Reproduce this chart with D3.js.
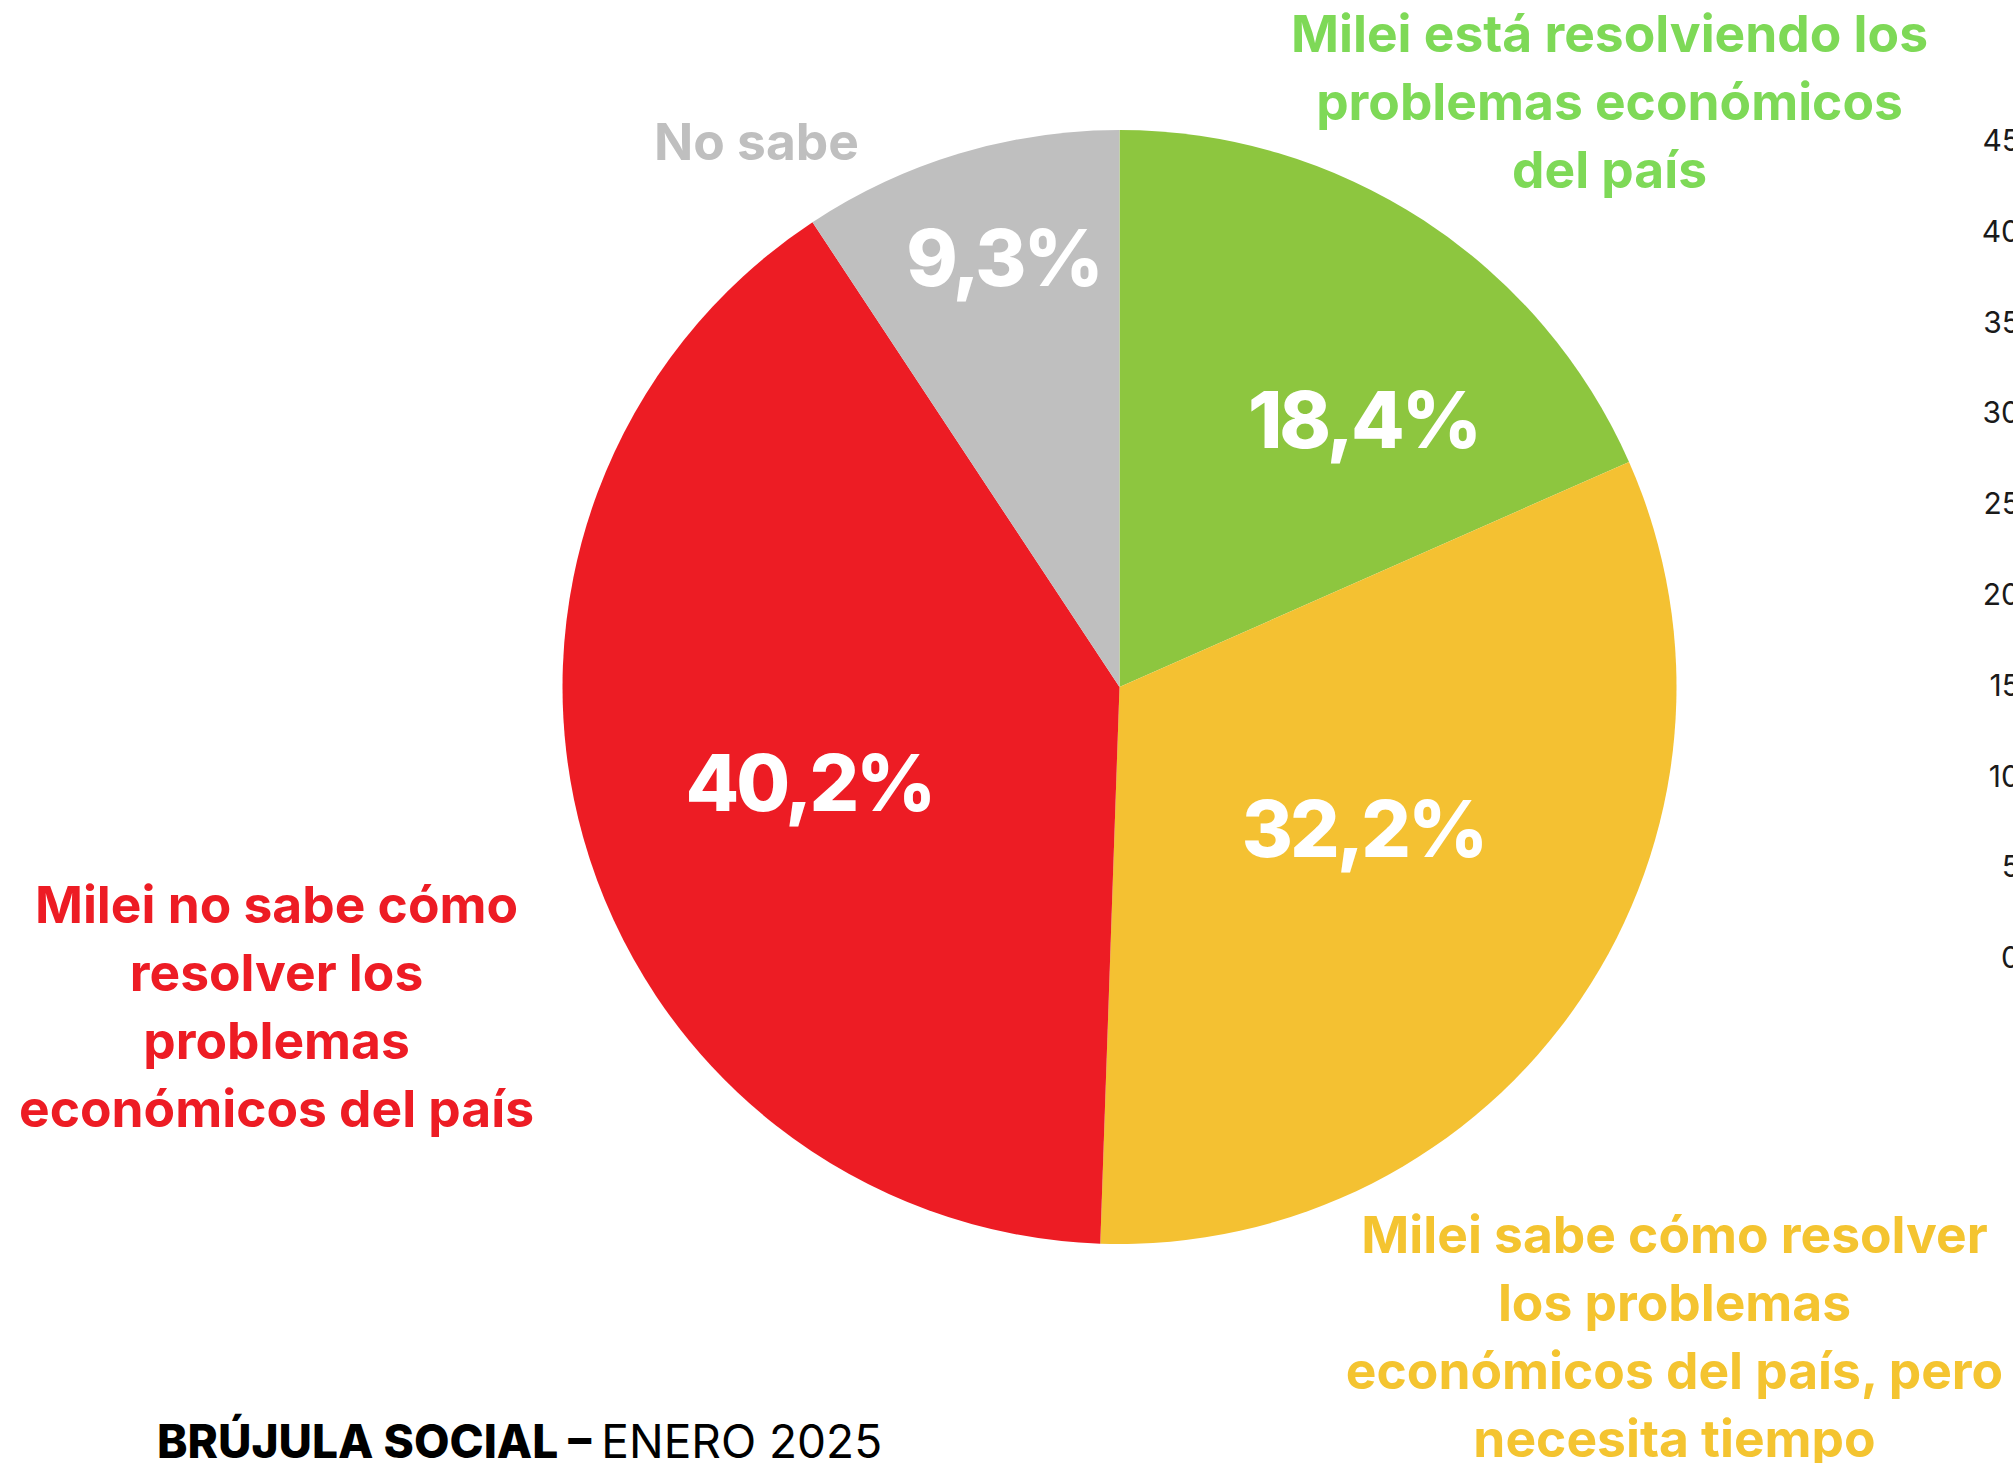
<!DOCTYPE html>
<html>
<head>
<meta charset="utf-8">
<script src="https://cdn.jsdelivr.net/npm/d3@7"></script>
<style>
  html, body { margin:0; padding:0; background:#fff; }
  svg { display:block; }
  text { font-family: Inter, "Noto Sans", sans-serif; }
</style>
</head>
<body>
<div id="canvas"></div>
<script>
// data
var categories = ['Milei está resolviendo los problemas económicos del país',
                  'Milei sabe cómo resolver los problemas económicos del país, pero necesita tiempo',
                  'Milei no sabe cómo resolver los problemas económicos del país',
                  'No sabe'];
var values = [18.4, 32.2, 40.2, 9.3];
var labelLines = [
  ['Milei está resolviendo los', 'problemas económicos', 'del país'],
  ['Milei sabe cómo resolver', 'los problemas', 'económicos del país, pero', 'necesita tiempo'],
  ['Milei no sabe cómo', 'resolver los', 'problemas', 'económicos del país'],
  ['No sabe']
];
var axisTicks = [0, 5, 10, 15, 20, 25, 30, 35, 40, 45];

var sliceColors = ['#8dc63f', '#f4c132', '#ed1c24', '#bfbfbf'];
var textColors  = ['#7ed957', '#f4c430', '#ed1c24', '#bfbfbf'];

var W = 2013, H = 1463;
var cx = 1119.5, cy = 687, r = 557;

// label layout, relative to pie centre
var pctPos = [[244, -267], [244, 142], [-310, 96], [-116, -429]];
var catPos = [[490, -654], [555, 547], [-843, 217], [-363, -546]];
var lineH = 68;

var svg = d3.select('#canvas')
    .append('svg')
    .attr('width', W)
    .attr('height', H);

var fmt = function(v){ return d3.format('.1f')(v).replace('.', ',') + '%'; };

var pie = d3.pie().sort(null).value(function(d){ return d; });
var arc = d3.arc().innerRadius(0).outerRadius(r);

var g = svg.append('g')
    .attr('transform', 'translate(' + cx + ',' + cy + ')');

g.selectAll('path')
    .data(pie(values))
    .enter()
    .append('path')
    .attr('d', arc)
    .style('fill', function(d, i){ return sliceColors[i]; });

// percentages
g.selectAll('text.pct')
    .data(values)
    .enter()
    .append('text')
    .attr('class', 'pct')
    .attr('x', function(d, i){ return pctPos[i][0]; })
    .attr('y', function(d, i){ return pctPos[i][1]; })
    .attr('dy', '0.36em')
    .attr('text-anchor', 'middle')
    .style('font-size', '78px')
    .style('font-weight', 800)
    .style('letter-spacing', '-3px')
    .style('fill', '#fff')
    .text(fmt);

// category labels
var cat = g.selectAll('text.cat')
    .data(labelLines)
    .enter()
    .append('text')
    .attr('class', 'cat')
    .attr('text-anchor', 'middle')
    .style('font-size', '51.5px')
    .style('font-weight', 700)
    .style('fill', function(d, i){ return textColors[i]; });

cat.each(function(lines, i){
    d3.select(this).selectAll('tspan')
        .data(lines)
        .enter()
        .append('tspan')
        .attr('x', catPos[i][0])
        .attr('y', function(l, j){ return catPos[i][1] + j * lineH; })
        .attr('dy', '0.36em')
        .text(function(l){ return l; });
});

// leftover axis at right edge (cut off)
var y = d3.scaleLinear().domain([0, 45]).range([958, 141]);
var axis = svg.append('g')
    .attr('class', 'axis')
    .attr('transform', 'translate(2020,0)')
    .call(d3.axisLeft(y).tickValues(axisTicks).tickSize(0).tickPadding(0));
axis.select('.domain').remove();
axis.selectAll('text')
    .style('font-family', 'Inter, sans-serif')
    .style('font-size', '30px')
    .style('fill', '#1a1a1a');

// footer
var foot = svg.append('text')
    .attr('x', 157)
    .attr('y', 1441)
    .attr('dy', '0.36em')
    .style('font-size', '46px')
    .style('fill', '#000');
foot.append('tspan').style('font-weight', 800).text('BRÚJULA SOCIAL – ');
foot.append('tspan').style('font-weight', 400).text('ENERO 2025');
</script>
</body>
</html>
